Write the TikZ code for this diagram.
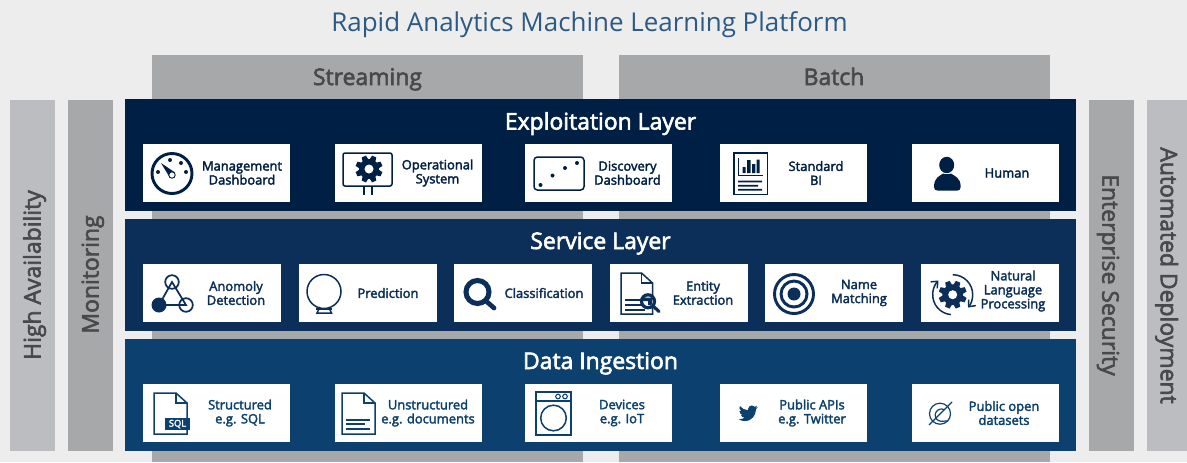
\documentclass[tikz,border=0pt]{standalone}
\usepackage{fontspec}
\usetikzlibrary{arrows.meta}
\setmainfont{Open Sans}
\newfontfamily\osb[FakeBold=2.6]{Open Sans}
\newfontfamily\osl{Open Sans}
\definecolor{bgc}{HTML}{EDEDED}
\definecolor{band}{HTML}{A7A8AA}
\definecolor{sidel}{HTML}{BCBDC0}
\definecolor{sided}{HTML}{A7A8AA}
\definecolor{sidet}{HTML}{48494B}
\definecolor{lay1}{HTML}{001F44}
\definecolor{lay2}{HTML}{0B2F58}
\definecolor{lay3}{HTML}{0C406E}
\definecolor{titlec}{HTML}{2B5A85}
\colorlet{ic}{lay1}
\tikzset{
  x=0.75pt,y=-0.75pt,
  solid box/.style={inner sep=0pt,outer sep=0pt,draw=none,anchor=north west},
  card/.style={solid box,fill=white},
  cardtext/.style={font=\osb\fontsize{9.7pt}{10.5pt}\selectfont,align=center,text=ic,inner sep=0pt},
  laytext/.style={font=\osb\fontsize{17.2pt}{18pt}\selectfont,text=white,inner sep=0pt,anchor=base},
  bandtext/.style={font=\osb\fontsize{17.2pt}{18pt}\selectfont,text=sidet,inner sep=0pt,anchor=base},
  sidetext/.style={font=\osb\fontsize{17.2pt}{18pt}\selectfont,text=sidet,inner sep=0pt,anchor=base},
  il/.style={draw=ic,line width=1.5pt*0.75,fill=none},
}
\newcommand\boxn[6]{\pgfmathsetmacro\bw{(#4-#2)*0.75}\pgfmathsetmacro\bh{(#5-#3)*0.75}%
  \node[#1,minimum width=\bw pt,minimum height=\bh pt] (#6) at (#2,#3) {};}
\newcommand\gearicon[4]{% x y R hole
  \begin{scope}[shift={(#1,#2)}]
  \fill[ic] (0,0) circle ({0.74*#3});
  \foreach \a in {0,45,...,315}{
    \fill[ic,rotate=\a+22.5] ({-0.24*#3},{0.6*#3}) -- ({-0.17*#3},{#3}) -- ({0.17*#3},{#3}) -- ({0.24*#3},{0.6*#3}) -- cycle;
  }
  \fill[white] (0,0) circle (#4);
  \end{scope}}
\newcommand\docicon[4]{% x1 y1 x2 y2
  \pgfmathsetmacro\fa{#3-11}\pgfmathsetmacro\fb{#2+10}%
  \draw[il,line join=miter] (#1,#2) -- (\fa,#2) -- (#3,\fb) -- (#3,#4) -- (#1,#4) -- cycle;
  \draw[il] (\fa,#2) -- (\fa,\fb) -- (#3,\fb);}
\begin{document}
\begin{tikzpicture}
\useasboundingbox (0,0) rectangle (1187,462);
\fill[bgc] (0,0) rectangle (1187,462);
\node[font=\osl\fontsize{19.45pt}{24pt}\selectfont,text=titlec,inner sep=0pt] (title) at (589.5,25) {Rapid Analytics Machine Learning Platform};
% bands
\boxn{solid box,fill=band}{152}{55}{583}{462}{streamband}
\boxn{solid box,fill=band}{619}{55}{1050}{462}{batchband}
\node[bandtext] (streaming) at (367.5,85) {Streaming};
\node[bandtext] (batch) at (834,85) {Batch};
% sides
\boxn{solid box,fill=sidel}{10}{100}{55}{451}{sideha}
\boxn{solid box,fill=sided}{68}{100}{113}{451}{sidemon}
\boxn{solid box,fill=sided}{1089}{100}{1134}{451}{sideent}
\boxn{solid box,fill=sidel}{1147}{100}{1187}{451}{sideauto}
\node[sidetext,rotate=90] (ha) at (40.5,275) {High Availability};
\node[sidetext,rotate=90] (mon) at (98.5,274.5) {Monitoring};
\node[sidetext,rotate=-90] (ent) at (1102.3,275) {Enterprise Security};
\node[sidetext,rotate=-90] (auto) at (1160.7,275.5) {Automated Deployment};
% layers
\boxn{solid box,fill=lay1}{125}{99}{1076}{211}{layer1}
\boxn{solid box,fill=lay2}{125}{219}{1076}{331}{layer2}
\boxn{solid box,fill=lay3}{125}{339}{1076}{451}{layer3}
\node[laytext] (t1) at (600.5,129.5) {Exploitation Layer};
\node[laytext] (t2) at (600.5,249) {Service Layer};
\node[laytext] (t3) at (600.5,369) {Data Ingestion};
% row 1
\colorlet{ic}{lay1}
\boxn{card}{143}{144}{290}{202}{c11}
\boxn{card}{335}{144}{482}{202}{c12}
\boxn{card}{525}{144}{672}{202}{c13}
\boxn{card}{720}{144}{867}{202}{c14}
\boxn{card}{912}{144}{1059}{202}{c15}
\node[cardtext] (l11) at (242,173) {Management\\Dashboard};
\node[cardtext] (l12) at (437.5,173) {Operational\\System};
\node[cardtext] (l13) at (627.5,173) {Discovery\\Dashboard};
\node[cardtext] (l14) at (816,173) {Standard\\BI};
\node[cardtext] (l15) at (1007,173) {Human};
% gauge
\draw[ic,line width=2.2pt] (172,173.5) circle (20);
\foreach \p in {(158,172),(170,160),(181,163),(186,172)} \fill[ic] \p circle (2);
\fill[ic] (161,163) -- (175,172.5) -- (169.5,177) -- cycle;
\filldraw[fill=white,draw=ic,line width=0.7pt] (172,175) circle (3.2);
% screen
\draw[il,rounded corners=1.5pt] (343,153) rectangle (392,186);
\draw[il,line width=1.5pt] (363.5,186) -- (363.5,195) (372,186) -- (372,195);
\gearicon{369}{169}{13.5}{4.5}
% discovery
\draw[il,rounded corners=2.5pt] (534,157) rectangle (584,190);
\foreach \p in {(540.5,185),(552.5,175.5),(565,168),(577,163)} \fill[ic] \p circle (2);
% standard BI
\draw[il,line width=1.1pt] (734,153) rectangle (767.5,194.5);
\draw[ic,line width=0.8pt] (738.5,158) -- (738.5,175.5) -- (763,175.5);
\fill[ic] (742.7,167) rectangle (745.7,173) (747,160) rectangle (750.7,173) (752,164) rectangle (755.3,173) (756.7,159.7) rectangle (759.7,173);
\fill[ic] (738,180.7) rectangle (762,182.3) (738,184.9) rectangle (758,186.5) (738,188.9) rectangle (762,190.5);
% human
\fill[ic] (946.7,165) ellipse (7.5 and 8.2);
\fill[ic] (934,187) .. controls (934,177) and (940,176) .. (943,173.5) .. controls (945,174.5) and (949,174.5) .. (951,173.5) .. controls (954,176) and (960.7,177) .. (960.7,187) .. controls (960.7,189.5) and (959,190.7) .. (957,190.7) -- (938,190.7) .. controls (935.5,190.7) and (934,189.5) .. (934,187) -- cycle;
% row 2
\colorlet{ic}{lay2}
\boxn{card}{143}{264}{281}{322}{c21}
\boxn{card}{299}{264}{437}{322}{c22}
\boxn{card}{454}{264}{592}{322}{c23}
\boxn{card}{610}{264}{748}{322}{c24}
\boxn{card}{765}{264}{903}{322}{c25}
\boxn{card}{921}{264}{1059}{322}{c26}
\node[cardtext] (l21) at (236,293) {Anomoly\\Detection};
\node[cardtext] (l22) at (388,293) {Prediction};
\node[cardtext] (l23) at (544,293) {Classification};
\node[cardtext] (l24) at (703,293) {Entity\\Extraction};
\node[cardtext] (l25) at (859,293) {Name\\Matching};
\node[cardtext] (l26) at (1013,291) {Natural\\Language\\Processing};
% anomaly
\draw[il,line width=1.3pt] (172,282) -- (159,305) -- (186,305) -- cycle;
\draw[ic,line width=1.5pt] (159,305) -- (186,305);
\fill[ic] (159,305) circle (7.5);
\filldraw[fill=white,il,line width=1.3pt] (172,282) circle (6.8);
\filldraw[fill=white,il,line width=1.3pt] (186,305) circle (6.8);
% crystal ball
\draw[il] (324,291.5) circle (17);
\draw[il] (320,307) -- (317,313) -- (331.5,313) -- (328.5,307);
\draw[il] (316,309) -- (332,309);
% magnifier
\draw[ic,line width=3.8pt] (477.5,292) circle (11.5);
\draw[ic,line width=3.5pt,line cap=round] (486,301) -- (494,308);
% entity
\docicon{621}{273}{652.5}{314}
\draw[ic,line width=1.5pt] (625,300.3) -- (642,300.3) (625,304.5) -- (642,304.5) (625,309.5) -- (645,309.5);
\filldraw[fill=white,draw=ic,line width=2.4pt] (648,301.3) circle (6.5);
\fill[ic] (643,297.5) -- (653,297.5) -- (651.5,305) -- (648,305) -- (648,301) -- (643,301) -- cycle;
\draw[ic,line width=2.4pt,line cap=round] (653,306) -- (659,311.5);
% target
\draw[ic,line width=2.2pt] (794,294) circle (19.5);
\draw[ic,line width=2.2pt] (794,294) circle (13);
\fill[ic] (794,294) circle (6.5);
% nlp
\gearicon{952.7}{294.7}{14}{4.5}
\draw[il,-{Straight Barb[length=4pt,width=7pt]}] (952.7,274.7) arc[start angle=-90,end angle=40,radius=20];
\draw[il,-{Straight Barb[length=4pt,width=7pt]}] (950.9,314.6) arc[start angle=95,end angle=225,radius=20];
% row 3
\colorlet{ic}{lay3}
\boxn{card}{143}{384}{290}{442}{c31}
\boxn{card}{335}{384}{482}{442}{c32}
\boxn{card}{525}{384}{672}{442}{c33}
\boxn{card}{720}{384}{867}{442}{c34}
\boxn{card}{912}{384}{1059}{442}{c35}
\node[cardtext] (l31) at (240,413) {Structured\\e.g. SQL};
\node[cardtext] (l32) at (428,413) {Unstructured\\e.g. documents};
\node[cardtext] (l33) at (622,413) {Devices\\e.g. IoT};
\node[cardtext] (l34) at (812,413) {Public APIs\\e.g. Twitter};
\node[cardtext] (l35) at (1004,413) {Public open\\datasets};
% sql doc
\docicon{154}{393}{187}{434}
\boxn{solid box,fill=ic}{165}{418}{190}{430}{sqlbox}
\node[font=\osb\fontsize{7pt}{8pt}\selectfont,text=white,inner sep=0pt] (sql) at (177.5,424) {SQL};
% doc
\docicon{342}{393}{375}{434}
\draw[ic,line width=1.5pt] (346,419.5) -- (370,419.5) (346,424) -- (365,424) (346,428.5) -- (370,428.5);
% washer
\draw[il] (536,392) rectangle (571,435);
\draw[il] (536,401) -- (571,401);
\draw[ic,line width=0.8pt] (558,396.5) circle (2.3) (565,396.5) circle (2.3);
\draw[il] (553.5,418) circle (12.8);
% twitter
\begin{scope}[shift={(738.6,403.6)},x=0.6pt,y=-0.6pt]
\fill[ic] (24,4.6) .. controls (23.1,5) and (22.2,5.2) .. (21.2,5.4) .. controls (22.2,4.8) and (23,3.8) .. (23.3,2.7) .. controls (22.3,3.3) and (21.3,3.7) .. (20.2,3.9) .. controls (19.3,2.9) and (18,2.3) .. (16.6,2.3) .. controls (13.9,2.3) and (11.7,4.5) .. (11.7,7.2) .. controls (11.7,7.6) and (11.8,8) .. (11.8,8.3) .. controls (7.7,8.1) and (4.1,6.1) .. (1.7,3.1) .. controls (1.2,3.8) and (1,4.7) .. (1,5.6) .. controls (1,7.3) and (1.9,8.8) .. (3.2,9.7) .. controls (2.4,9.7) and (1.6,9.5) .. (1,9.1) -- (1,9.2) .. controls (1,11.6) and (2.7,13.6) .. (5,14) .. controls (4.6,14.1) and (4.1,14.2) .. (3.7,14.2) .. controls (3.4,14.2) and (3.1,14.2) .. (2.8,14.1) .. controls (3.4,16.1) and (5.2,17.5) .. (7.4,17.5) .. controls (5.7,18.8) and (3.6,19.6) .. (1.3,19.6) .. controls (0.9,19.6) and (0.5,19.6) .. (0.1,19.6) .. controls (2.3,21) and (4.9,21.8) .. (7.6,21.8) .. controls (16.7,21.8) and (21.6,14.3) .. (21.6,7.8) .. controls (21.6,7.6) and (21.6,7.4) .. (21.6,7.2) .. controls (22.6,6.5) and (23.4,5.6) .. (24,4.6) -- cycle;
\end{scope}
% open data
\draw[il,line width=0.9pt] (940,413.7) circle (10.5);
\draw[il,line width=0.9pt] (929,425) -- (952,402);
\draw[il,line width=0.9pt] (944.5,409.8) arc[start angle=-60,end angle=-270,radius=6.2] -- (948,420.8);
\end{tikzpicture}
\end{document}
